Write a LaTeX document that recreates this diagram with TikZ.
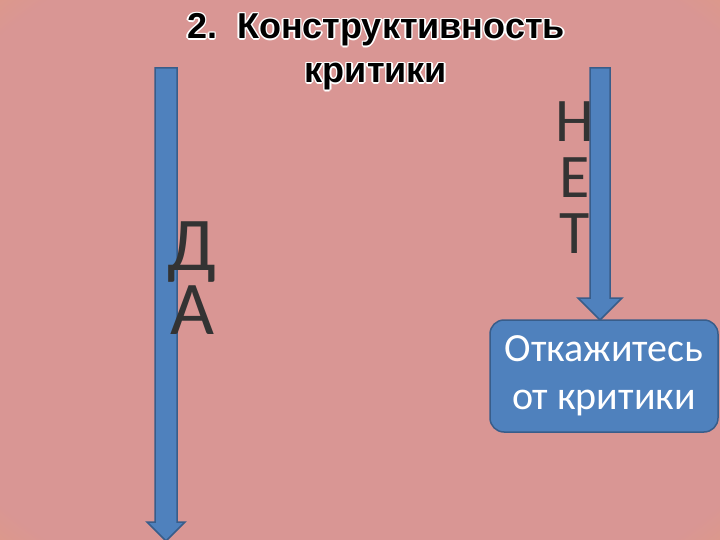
\documentclass[tikz,border=0pt]{standalone}
\usepackage{fontspec}
\setmainfont{Carlito}
\newfontfamily\titlefont{Liberation Sans}
\definecolor{bgpink}{RGB}{217,150,148}
\definecolor{bgorange}{RGB}{238,165,90}
\definecolor{bgyellow}{RGB}{255,195,30}
\definecolor{arrfill}{RGB}{79,129,189}
\definecolor{arrdraw}{RGB}{56,93,138}
\pgfdeclareradialshading{bgshade}{\pgfpoint{0bp}{0bp}}{color(0bp)=(bgpink); color(33bp)=(bgpink); color(50bp)=(bgorange); color(62bp)=(bgyellow); color(100bp)=(bgyellow)}
\begin{document}
\begin{tikzpicture}[x=1pt,y=-1pt,
  blockarrow/.style={fill=arrfill,draw=arrdraw,line width=1.5pt},
  ttl/.style={font=\titlefont\bfseries\fontsize{36}{44}\selectfont,align=center},
  big/.style={text=black!80,align=center}]
\useasboundingbox (0,0) rectangle (720,540);
\shade[shading=bgshade] (0,0) rectangle (720,540);
% left arrow
\draw[blockarrow] (155,68) -- (177,68) -- (177,522) -- (185,522) -- (166,541) -- (147,522) -- (155,522) -- cycle;
% right arrow
\draw[blockarrow] (590,68) -- (610,68) -- (610,298) -- (622,298) -- (600,320) -- (578,298) -- (590,298) -- cycle;
\node[draw=arrdraw,line width=1.5pt,fill=arrfill,rounded corners=14pt,minimum width=228,minimum height=112,text=white,align=center,font=\fontsize{40}{48}\selectfont] (box) at (604,376) {Откажитесь\\от критики};
% title
\foreach \dx/\dy in {1.5/0,-1.5/0,0/1.5,0/-1.5,1/1,-1/-1,1/-1,-1/1}{
  \node[ttl,text=white] at (376+\dx,52+\dy) {2.\ \ Конструктивность\\критики};}
\node[ttl,text=black] (title) at (376,52) {2.\ \ Конструктивность\\критики};
\node[big,font=\fontsize{76}{64}\selectfont,anchor=north west] (da) at (164,218) {Д\\А};
\node[big,font=\fontsize{62}{56}\selectfont,anchor=north west] (net) at (552,98) {Н\\Е\\Т};
\end{tikzpicture}
\end{document}
